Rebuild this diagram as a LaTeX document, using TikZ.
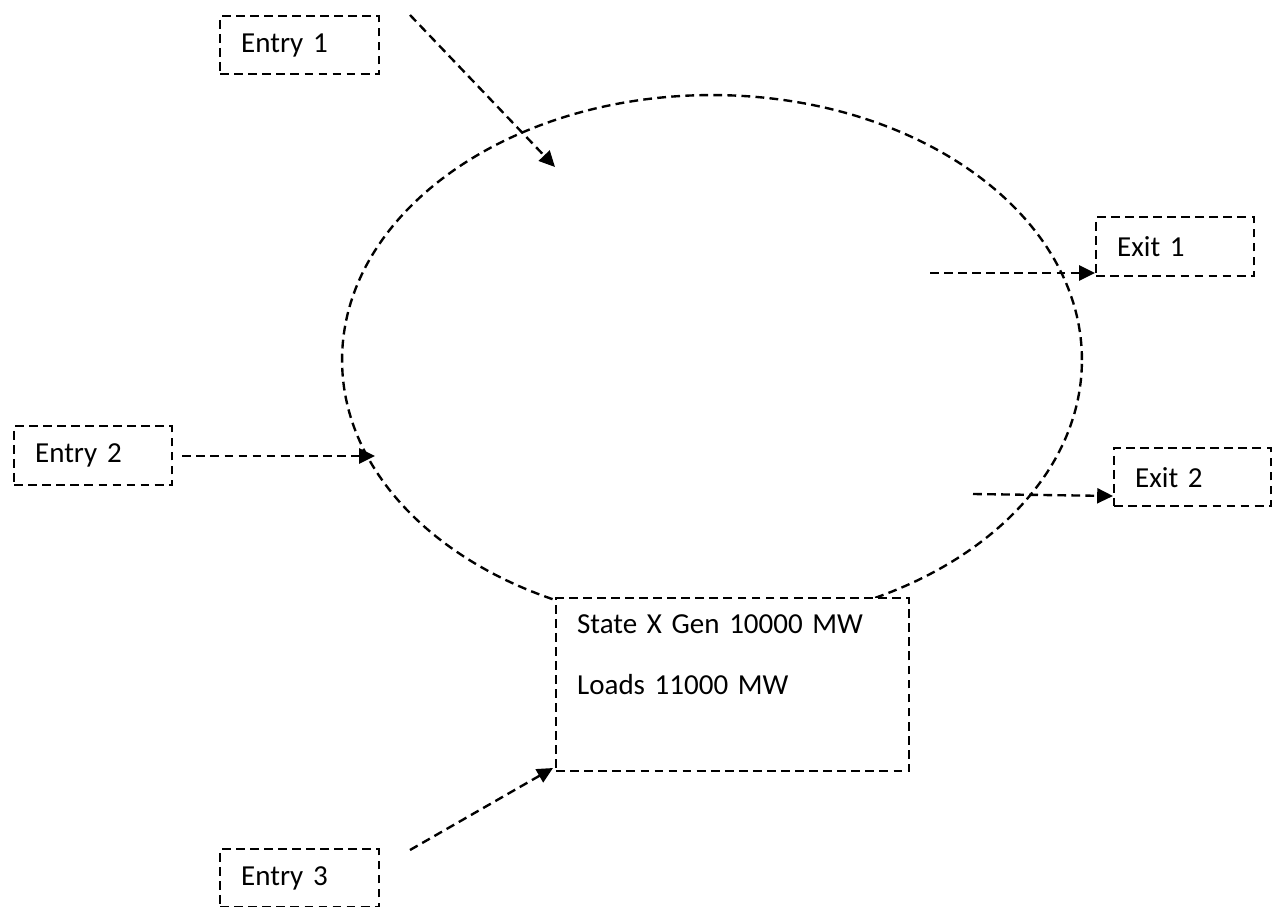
\documentclass[tikz,border=0pt]{standalone}
\usepackage{fontspec}
\setmainfont{Carlito}[WordSpace=0.85]
\usetikzlibrary{arrows.meta}

\begin{document}
\begin{tikzpicture}[x=0.02cm,y=-0.02cm,
	line width=1.35pt,dash pattern=on 5pt off 3pt,
	font=\fontsize{16.5}{20}\selectfont,
	box/.style={draw,fill=white,anchor=north west,inner xsep=0.42cm,inner ysep=0pt,align=left},
	flow/.style={-{Triangle[length=9pt,width=8.5pt]}}]
	\useasboundingbox (0,0) rectangle (1276,907);
	% ring
	\draw (712,360) ellipse [x radius=7.4cm,y radius=5.3cm];
	% boxes
	\node[box,text width=2.34cm,minimum height=1.16cm] (entry1) at (219,15) {Entry 1};
	\node[box,text width=2.32cm,minimum height=1.18cm] (entry2) at (13,425) {Entry 2};
	\node[box,text width=2.34cm,minimum height=1.16cm] (entry3) at (219,848) {Entry 3};
	\node[box,text width=2.32cm,minimum height=1.18cm] (exit1) at (1095,216) {Exit 1};
	\node[box,text width=2.30cm,minimum height=1.16cm] (exit2) at (1113,447) {Exit 2};
	\node[box,text width=6.22cm,minimum height=3.46cm] (state) at (555,597)
		{State X Gen 10000 MW\\[14.6pt]Loads 11000 MW\\[14.6pt]\mbox{}};
	% free ends
	\coordinate (e1a) at (410,15);
	\coordinate (e1b) at (555,167);
	\coordinate (e2b) at (375,456);
	\coordinate (e3a) at (410,850);
	\coordinate (e3b) at (553,768);
	\coordinate (x1a) at (930,273);
	\coordinate (x2a) at (973,494);
	% flows
	\draw[flow] (e1a) -- (e1b);
	\draw[flow] (entry2.east |- e2b) ++(9,0) -- (e2b);
	\draw[flow] (e3a) -- (e3b);
	\draw[flow] (x1a) -- (x1a -| exit1.west);
	\draw[flow] (x2a) -- (exit2.west |- 0,496);
\end{tikzpicture}
\end{document}
